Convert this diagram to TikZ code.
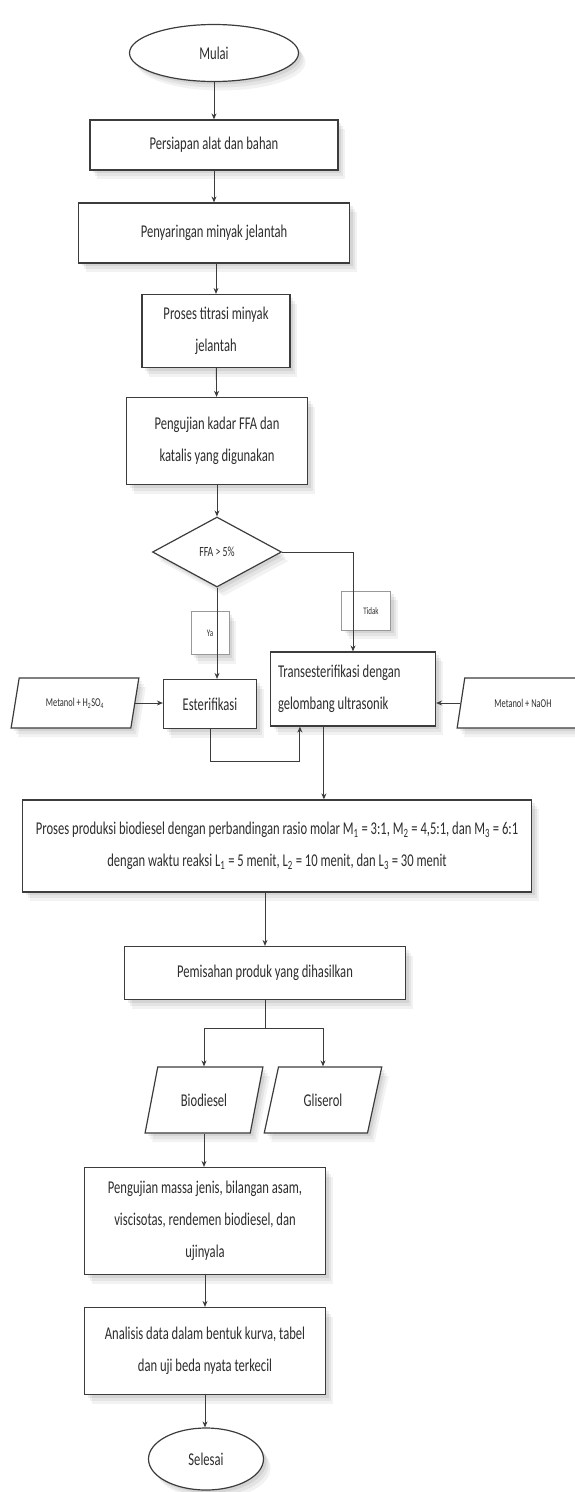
\documentclass[tikz,border=0pt]{standalone}
\usepackage{fontspec}
\setmainfont{Carlito}[FakeStretch=0.7]
\usetikzlibrary{arrows.meta,positioning,calc,shapes.geometric,shadows}
\definecolor{ink}{RGB}{45,45,45}
\definecolor{edge}{RGB}{60,60,60}
\tikzset{
  shd/.style={drop shadow={shadow xshift=7pt,shadow yshift=-9pt,opacity=0.05,fill=black},
              drop shadow={shadow xshift=5pt,shadow yshift=-6pt,opacity=0.06,fill=black},
              drop shadow={shadow xshift=3pt,shadow yshift=-3pt,opacity=0.07,fill=black}},
  proc/.style={draw=edge,fill=white,line width=1.2pt,align=center,text=ink,
               inner sep=3pt,font=\fontsize{18}{32}\selectfont,shd},
  term/.style={proc,ellipse},
  cond/.style={proc,diamond,aspect=1.8,inner sep=0pt,font=\fontsize{14}{16}\selectfont},
  io/.style={proc,trapezium,trapezium left angle=69,trapezium right angle=111,
             trapezium stretches=true},
  iosm/.style={io,trapezium left angle=74,trapezium right angle=106,
               font=\fontsize{12}{14}\selectfont},
  tag/.style={draw=black!40,fill=white,line width=0.6pt,text=ink,inner sep=1pt,
              font=\fontsize{10}{12}\selectfont,shd},
  flow/.style={-{Stealth[length=6pt,width=5pt]},line width=0.9pt,draw=edge},
}

\begin{document}
\begin{tikzpicture}[x=1pt,y=1pt]
  \useasboundingbox (0,0) rectangle (575,-1492);
  \clip (0,0) rectangle (575,-1492);

  % --- bagian atas --------------------------------------------------------
  \node[term,minimum width=169,minimum height=57] (mulai) at (214,-53) {Mulai};
  \node[proc,minimum width=248,minimum height=50] (alat)  at (214,-145) {Persiapan alat dan bahan};
  \node[proc,minimum width=271,minimum height=60] (saring) at (214,-233) {Penyaringan minyak jelantah};
  \node[proc,minimum width=148,minimum height=73] (titrasi) at (216,-331)
        {Proses titrasi minyak\\jelantah};
  \node[proc,minimum width=181,minimum height=87] (uji) at (217,-441)
        {Pengujian kadar FFA dan\\katalis yang digunakan};
  \node[cond,minimum width=129,minimum height=70] (ffa) at (217,-552) {FFA > 5\%};

  % --- label cabang -------------------------------------------------------
  \node[tag,minimum width=38,minimum height=43] (ya) at (210,-633) {Ya\hspace{14pt}};
  \node[tag,minimum width=49,minimum height=39,anchor=north] (tidak) at (366,-591)
        {\hspace{10pt}Tidak};

  % --- reaksi -------------------------------------------------------------
  \node[proc,minimum width=93,minimum height=49] (ester) at (210,-704) {Esterifikasi};
  \node[proc,minimum width=165,minimum height=74,align=flush left,text width=150] (trans) at (353,-689)
        {Transesterifikasi dengan\\gelombang ultrasonik};
  \node[iosm,minimum width=128,minimum height=50] (hso) at (75,-703)
        {Metanol + H\textsubscript{2}SO\textsubscript{4}};
  \node[iosm,minimum width=132,minimum height=50] (naoh) at (523,-703) {Metanol + NaOH};

  \node[proc,minimum width=509,minimum height=92] (produksi) at (277,-846)
        {Proses produksi biodiesel dengan perbandingan rasio molar
         M\textsubscript{1} = 3:1, M\textsubscript{2} = 4,5:1, dan M\textsubscript{3} = 6:1\\
         dengan waktu reaksi L\textsubscript{1} = 5 menit, L\textsubscript{2} = 10 menit,
         dan L\textsubscript{3} = 30 menit};

  % --- bagian bawah -------------------------------------------------------
  \node[proc,minimum width=281,minimum height=53] (pisah) at (265,-973)
        {Pemisahan produk yang dihasilkan};
  \node[io,minimum width=118,minimum height=66] (bio) at (204,-1100) {Biodiesel};
  \node[io,minimum width=118,minimum height=66] (gli) at (323,-1100) {Gliserol};
  \node[proc,minimum width=241,minimum height=107] (massa) at (205,-1221)
        {Pengujian massa jenis, bilangan asam,\\viscisotas, rendemen biodiesel, dan\\ujinyala};
  \node[proc,minimum width=241,minimum height=87] (analisis) at (205,-1351)
        {Analisis data dalam bentuk kurva, tabel\\dan uji beda nyata terkecil};
  \node[term,minimum width=115,minimum height=62] (selesai) at (206,-1459) {Selesai};

  % --- alur utama ---------------------------------------------------------
  \draw[flow] (mulai.south) -- (mulai.south |- alat.north);
  \draw[flow] (alat) -- (saring);
  \draw[flow] (titrasi.north |- saring.south) -- (titrasi.north);
  \draw[flow] (titrasi) -- (uji);
  \draw[flow] (uji) -- (ffa);

  % --- percabangan FFA ----------------------------------------------------
  \draw[flow] (ffa.south) -- (ffa.south |- ester.north);
  \draw[flow] (ffa.east) -| (trans.north);
  \draw[flow] (hso.east) -- (hso.east -| ester.west);
  \draw[flow] (naoh.west) -- (naoh.west -| trans.east);

  % esterifikasi kembali ke transesterifikasi
  \coordinate (balik) at ([xshift=30pt]trans.south west);
  \draw[flow] (ester.south) -- ++(0,-32) -| (balik);

  \coordinate (turun) at ([xshift=54pt]trans.south west);
  \draw[flow] (turun) -- (turun |- produksi.north);
  \draw[flow] (pisah.north |- produksi.south) -- (pisah.north);

  % --- pemisahan produk ---------------------------------------------------
  \coordinate (cabang) at ([yshift=-28pt]pisah.south);
  \draw[line width=0.9pt,draw=edge] (pisah.south) -- (cabang);
  \draw[flow] (cabang) -| (bio.north);
  \draw[flow] (cabang) -| (gli.north);
  \draw[flow] (bio.south) -- (bio.south |- massa.north);
  \draw[flow] (massa) -- (analisis);
  \draw[flow] (analisis.south) -- (analisis.south |- selesai.north);

\end{tikzpicture}
\end{document}
